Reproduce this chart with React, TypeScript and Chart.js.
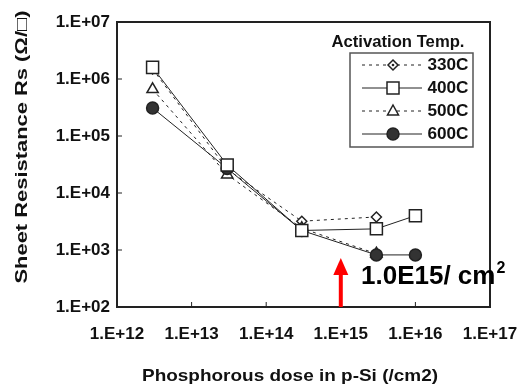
import React, { useEffect, useRef } from "react";
import { Chart, registerables } from "chart.js";

Chart.register(...registerables);

const DOSES = [3e12, 3e13, 3e14, 3e15, 1e16];
const SERIES_LABELS = ["330C", "400C", "500C", "600C"];
const RS_330 = [1.5e6, 2.6e4, 3.2e3, 3.8e3, null];
const RS_400 = [1.6e6, 3.1e4, 2.2e3, 2.35e3, 4.0e3];
const RS_500 = [6.6e5, 2.1e4, 2.4e3, 8.6e2, null];
const RS_600 = [3.1e5, 2.7e4, 2.2e3, 8.2e2, 8.2e2];
const X_TICK_EXPONENTS = [12, 13, 14, 15, 16, 17];
const Y_TICK_EXPONENTS = [2, 3, 4, 5, 6, 7];
const ARROW_DOSE = 1e15;
const ANNOTATION = "1.0E15/ cm";
const ANNOTATION_SUP = "2";
const X_TITLE = "Phosphorous dose in p-Si (/cm2)";
const Y_TITLE = "Sheet Resistance Rs (\u03A9/\u25A1)";
const LEGEND_TITLE = "Activation Temp.";

const FONT = "'Liberation Sans', Arial, sans-serif";
const INK = "#222";

function fmt(v: number) {
  const e = Math.round(Math.log10(v));
  return "1.E+" + String(e).padStart(2, "0");
}

function fitText(ctx: CanvasRenderingContext2D, text: string, cx: number, cy: number, width: number, rot: number) {
  ctx.save();
  ctx.translate(cx, cy);
  ctx.rotate(rot);
  const w = ctx.measureText(text).width;
  ctx.scale(width / w, 1);
  ctx.textAlign = "center";
  ctx.textBaseline = "middle";
  ctx.fillText(text, 0, 0);
  ctx.restore();
}

function drawMarker(ctx: CanvasRenderingContext2D, style: string, x: number, y: number) {
  ctx.save();
  ctx.lineWidth = 1.5;
  ctx.strokeStyle = INK;
  ctx.setLineDash([]);
  if (style === "rectRot") {
    ctx.fillStyle = "#fff";
    ctx.beginPath();
    ctx.moveTo(x, y - 5);
    ctx.lineTo(x + 5, y);
    ctx.lineTo(x, y + 5);
    ctx.lineTo(x - 5, y);
    ctx.closePath();
    ctx.fill();
    ctx.stroke();
    ctx.fillStyle = INK;
    ctx.beginPath();
    ctx.arc(x, y, 1.3, 0, Math.PI * 2);
    ctx.fill();
  } else if (style === "rect") {
    ctx.fillStyle = "#fff";
    ctx.fillRect(x - 6, y - 6, 12, 12);
    ctx.strokeRect(x - 6, y - 6, 12, 12);
  } else if (style === "triangle") {
    ctx.fillStyle = "#fff";
    ctx.beginPath();
    ctx.moveTo(x, y - 6);
    ctx.lineTo(x + 5.5, y + 4);
    ctx.lineTo(x - 5.5, y + 4);
    ctx.closePath();
    ctx.fill();
    ctx.stroke();
  } else {
    ctx.fillStyle = "#333";
    ctx.beginPath();
    ctx.arc(x, y, 6, 0, Math.PI * 2);
    ctx.fill();
    ctx.stroke();
  }
  ctx.restore();
}

const STYLES = ["rectRot", "rect", "triangle", "circle"];
const DASHES = [[3, 4], [], [3, 4], []];

const decorPlugin = {
  id: "decor",
  beforeDatasetsDraw(chart: any) {
    const { ctx, chartArea: a } = chart;
    ctx.save();
    ctx.strokeStyle = INK;
    ctx.lineWidth = 2;
    ctx.strokeRect(a.left, a.top, a.right - a.left, a.bottom - a.top);
    ctx.lineWidth = 1;
    const xs = chart.scales.x;
    const ys = chart.scales.y;
    X_TICK_EXPONENTS.forEach((e) => {
      const px = xs.getPixelForValue(Math.pow(10, e));
      ctx.beginPath();
      ctx.moveTo(px, a.bottom);
      ctx.lineTo(px, a.bottom - 5);
      ctx.stroke();
    });
    Y_TICK_EXPONENTS.forEach((e) => {
      const py = ys.getPixelForValue(Math.pow(10, e));
      ctx.beginPath();
      ctx.moveTo(a.left, py);
      ctx.lineTo(a.left + 5, py);
      ctx.stroke();
    });
    ctx.restore();
  },
  afterDraw(chart: any) {
    const { ctx, chartArea: a } = chart;
    const xs = chart.scales.x;
    ctx.save();
    // titles
    ctx.fillStyle = "#111";
    ctx.font = "bold 17px " + FONT;
    fitText(ctx, X_TITLE, 290, 376, 296, 0);
    fitText(ctx, Y_TITLE, 22, 147, 273, -Math.PI / 2);

    // legend
    const lx0 = 350, ly0 = 53, lx1 = 473, ly1 = 147;
    ctx.font = "bold 16px " + FONT;
    fitText(ctx, LEGEND_TITLE, 398, 43, 133, 0);
    ctx.fillStyle = "#fff";
    ctx.fillRect(lx0, ly0, lx1 - lx0, ly1 - ly0);
    ctx.strokeStyle = "#555";
    ctx.lineWidth = 1.5;
    ctx.strokeRect(lx0, ly0, lx1 - lx0, ly1 - ly0);
    const rows = [65, 88, 111, 134];
    SERIES_LABELS.forEach((lab, i) => {
      const y = rows[i];
      ctx.strokeStyle = INK;
      ctx.lineWidth = 1;
      ctx.setLineDash(DASHES[i]);
      ctx.beginPath();
      ctx.moveTo(362, y);
      ctx.lineTo(422, y);
      ctx.stroke();
      ctx.setLineDash([]);
      drawMarker(ctx, STYLES[i], 393, y);
      ctx.fillStyle = "#111";
      ctx.font = "bold 16px " + FONT;
      fitText(ctx, lab, 448, y + 1, 41, 0);
    });

    // red arrow
    const ax = xs.getPixelForValue(ARROW_DOSE);
    ctx.strokeStyle = "#ff0000";
    ctx.fillStyle = "#ff0000";
    ctx.lineWidth = 4;
    ctx.beginPath();
    ctx.moveTo(ax, a.bottom);
    ctx.lineTo(ax, 272);
    ctx.stroke();
    ctx.beginPath();
    ctx.moveTo(ax, 258);
    ctx.lineTo(ax + 7.5, 275);
    ctx.lineTo(ax - 7.5, 275);
    ctx.closePath();
    ctx.fill();

    // annotation
    ctx.fillStyle = "#000";
    ctx.font = "bold 26px " + FONT;
    ctx.textAlign = "left";
    ctx.textBaseline = "alphabetic";
    ctx.fillText(ANNOTATION, 361, 284);
    const w = ctx.measureText(ANNOTATION).width;
    ctx.font = "bold 16px " + FONT;
    ctx.fillText(ANNOTATION_SUP, 361 + w + 1, 273);
    ctx.restore();
  },
};

export default function App() {
  const ref = useRef<HTMLCanvasElement>(null);
  useEffect(() => {
    document.body.style.margin = "0";
    const mk = (label: string, data: (number | null)[], i: number) => ({
      label,
      data: DOSES.map((d, k) => ({ x: d, y: data[k] })),
      borderColor: INK,
      borderWidth: 1,
      borderDash: DASHES[i],
      pointStyle: STYLES[i],
      pointRadius: i === 0 ? 5 : i === 1 ? 8.5 : i === 2 ? 6.5 : 6,
      pointBorderWidth: 1.5,
      pointBorderColor: INK,
      pointBackgroundColor: i === 3 ? "#333" : "#fff",
      fill: false,
      tension: 0,
      spanGaps: false,
      order: [4, 1, 3, 2][i],
    });
    const chart = new Chart(ref.current as HTMLCanvasElement, {
      type: "line",
      data: {
        datasets: [
          mk(SERIES_LABELS[0], RS_330, 0),
          mk(SERIES_LABELS[1], RS_400, 1),
          mk(SERIES_LABELS[2], RS_500, 2),
          mk(SERIES_LABELS[3], RS_600, 3),
        ],
      },
      options: {
        animation: false,
        responsive: true,
        maintainAspectRatio: false,
        layout: { padding: { left: 0, top: 22, right: 34, bottom: 0 } },
        plugins: { legend: { display: false }, tooltip: { enabled: false } },
        scales: {
          x: {
            type: "logarithmic",
            min: 1e12,
            max: 1e17,
            grid: { display: false, drawTicks: false },
            border: { display: false },
            afterBuildTicks: (s: any) => {
              s.ticks = X_TICK_EXPONENTS.map((e) => ({ value: Math.pow(10, e) }));
            },
            afterFit: (s: any) => {
              s.height = 85;
              s.paddingLeft = 0;
              s.paddingRight = 0;
            },
            ticks: {
              autoSkip: false,
              maxRotation: 0,
              padding: 17,
              color: "#111",
              font: { family: FONT, size: 17, weight: "bold" },
              callback: (v: any) => fmt(Number(v)),
            },
          },
          y: {
            type: "logarithmic",
            min: 1e2,
            max: 1e7,
            grid: { display: false, drawTicks: false },
            border: { display: false },
            afterBuildTicks: (s: any) => {
              s.ticks = Y_TICK_EXPONENTS.map((e) => ({ value: Math.pow(10, e) }));
            },
            afterFit: (s: any) => {
              s.width = 117;
              s.paddingTop = 0;
              s.paddingBottom = 0;
            },
            ticks: {
              autoSkip: false,
              padding: 7,
              color: "#111",
              font: { family: FONT, size: 17, weight: "bold" },
              callback: (v: any) => fmt(Number(v)),
            },
          },
        },
      } as any,
      plugins: [decorPlugin],
    });
    return () => chart.destroy();
  }, []);
  return (
    <div style={{ width: 524, height: 392, position: "relative", background: "#fff" }}>
      <canvas ref={ref} />
    </div>
  );
}
